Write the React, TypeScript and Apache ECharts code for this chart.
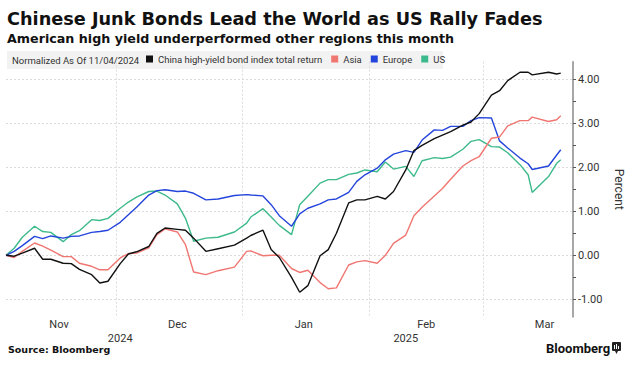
import React, { useEffect, useRef } from "react";
import * as echarts from "echarts";

const dates = [
  "2024-11-04", "2024-11-06", "2024-11-08", "2024-11-11", "2024-11-13", "2024-11-15",
  "2024-11-18", "2024-11-20", "2024-11-22", "2024-11-25", "2024-11-27", "2024-11-29",
  "2024-12-02", "2024-12-04", "2024-12-06", "2024-12-09", "2024-12-11", "2024-12-13",
  "2024-12-16", "2024-12-18", "2024-12-20", "2024-12-23", "2024-12-26", "2024-12-30",
  "2025-01-02", "2025-01-03", "2025-01-06", "2025-01-08", "2025-01-10", "2025-01-13",
  "2025-01-15", "2025-01-17", "2025-01-20", "2025-01-22", "2025-01-24", "2025-01-27",
  "2025-01-29", "2025-01-31", "2025-02-03", "2025-02-05", "2025-02-07", "2025-02-10",
  "2025-02-12", "2025-02-14", "2025-02-17", "2025-02-19", "2025-02-21", "2025-02-24",
  "2025-02-26", "2025-02-28", "2025-03-03", "2025-03-05", "2025-03-07", "2025-03-10",
  "2025-03-12", "2025-03-13", "2025-03-17", "2025-03-19", "2025-03-20",
];

const china = [
  0, -0.02, 0.05, 0.16, -0.09, -0.09,
  -0.18, -0.19, -0.32, -0.44, -0.63, -0.59,
  -0.19, 0.03, 0.08, 0.2, 0.5, 0.62,
  0.59, 0.57, 0.39, 0.09, 0.15, 0.23,
  0.39, 0.45, 0.57, 0.13, -0.05, -0.5,
  -0.84, -0.69, -0.01, 0.13, 0.5, 1.19,
  1.26, 1.26, 1.34, 1.28, 1.45, 1.94,
  2.38, 2.5, 2.65, 2.73, 2.81, 2.96,
  3.03, 3.22, 3.64, 3.74, 3.97, 4.16,
  4.16, 4.1, 4.16, 4.12, 4.14,
];

const asia = [
  0, -0.05, 0.09, 0.28, 0.21, 0.12,
  -0.03, -0.03, -0.18, -0.25, -0.33, -0.33,
  -0.06, 0.04, 0.05, 0.17, 0.47, 0.6,
  0.53, 0.24, -0.38, -0.44, -0.35, -0.27,
  0.09, 0.1, -0.01, 0.0, 0.0, -0.3,
  -0.39, -0.34, -0.62, -0.76, -0.74, -0.22,
  -0.15, -0.12, -0.18, 0.0, 0.27, 0.46,
  0.9, 1.09, 1.35, 1.52, 1.73, 2.03,
  2.15, 2.24, 2.66, 2.69, 2.94, 3.06,
  3.06, 3.14, 3.04, 3.08, 3.17,
];

const europe = [
  0, 0.09, 0.22, 0.43, 0.38, 0.44,
  0.39, 0.43, 0.44, 0.52, 0.54, 0.57,
  0.75, 0.92, 1.09, 1.37, 1.47, 1.49,
  1.45, 1.46, 1.41, 1.26, 1.28, 1.36,
  1.38, 1.37, 1.35, 1.15, 0.9, 0.66,
  0.94, 1.07, 1.17, 1.26, 1.28, 1.43,
  1.68, 1.83, 1.98, 2.17, 2.3, 2.38,
  2.34, 2.62, 2.85, 2.84, 2.93, 2.93,
  3.06, 3.13, 3.12, 2.6, 2.44, 2.21,
  2.08, 1.95, 2.03, 2.28, 2.4,
];

const us = [
  0, 0.16, 0.41, 0.66, 0.54, 0.52,
  0.31, 0.47, 0.56, 0.81, 0.79, 0.84,
  1.07, 1.21, 1.32, 1.45, 1.46, 1.37,
  1.17, 0.84, 0.32, 0.39, 0.41, 0.53,
  0.73, 0.87, 1.06, 0.87, 0.68, 0.47,
  1.15, 1.34, 1.64, 1.72, 1.72, 1.84,
  1.87, 1.94, 1.9, 2.12, 1.96, 2.02,
  1.79, 2.15, 2.22, 2.2, 2.23, 2.41,
  2.59, 2.63, 2.47, 2.46, 2.33, 2.06,
  1.83, 1.43, 1.79, 2.09, 2.17,
];

const seriesNames = ["China high-yield bond index total return", "Asia", "Europe", "US"];
const seriesColors = ["#111111", "#F07672", "#2445DB", "#3DBA8B"];

const axisStart = "2024-11-04";
const axisEnd = "2025-03-23";
const monthStarts = ["2024-12-01", "2025-01-01", "2025-02-01", "2025-03-01"];
const monthLabelDates = ["2024-11-17", "2024-12-16", "2025-01-16", "2025-02-15", "2025-03-16"];
const monthLabels = ["Nov", "Dec", "Jan", "Feb", "Mar"];
const yearLabelDates = ["2024-12-02", "2025-02-10"];
const yearLabels = ["2024", "2025"];
const yLabelTicks = [-1, 0, 1, 2, 3, 4];
const yAllTicks = [-1, -0.5, 0, 0.5, 1, 1.5, 2, 2.5, 3, 3.5, 4];

const ts = (s: string) => {
  const [y, m, d] = s.split("-").map(Number);
  return Date.UTC(y, m - 1, d);
};

export default function App() {
  const ref = useRef<HTMLDivElement>(null);
  useEffect(() => {
    document.body.style.margin = "0";
    const chart = echarts.init(ref.current!, null, { renderer: "svg" });
    const font = "Roboto, 'Noto Sans', sans-serif";
    const heavy = "'DejaVu Sans', Verdana, sans-serif";
    const monthTs = monthLabelDates.map(ts);
    const yearTs = yearLabelDates.map(ts);
    const valueSets = [china, asia, europe, us];
    const order = [3, 2, 1, 0];
    const series = order.map((k) => ({
      name: seriesNames[k],
      type: "line",
      data: dates.map((d, i) => [ts(d), valueSets[k][i]]),
      symbol: "none",
      showSymbol: false,
      lineStyle: { width: 1.4, color: seriesColors[k] },
      itemStyle: { color: seriesColors[k] },
      emphasis: { disabled: true },
    }));
    chart.setOption({
      animation: false,
      grid: { left: 6, right: 63, top: 61.7, bottom: 67.1, containLabel: false, outerBoundsMode: "none" },
      legend: {
        data: seriesNames,
        left: 146,
        top: 54,
        padding: 0,
        icon: "rect",
        itemWidth: 7,
        itemHeight: 7,
        itemGap: 9,
        selectedMode: false,
        textStyle: { fontSize: 9.5, color: "#333", fontFamily: font },
      },
      xAxis: [
        {
          type: "value",
          min: ts(axisStart),
          max: ts(axisEnd),
          axisLine: { show: false },
          axisTick: { show: false, customValues: monthStarts.map(ts) },
          splitLine: { show: true, lineStyle: { color: "#dcdcdc", type: [2, 2], width: 1 } },
          axisLabel: {
            customValues: monthTs,
            formatter: (v: number, i: number) => {
              const k = monthTs.indexOf(v);
              return k >= 0 ? monthLabels[k] : monthLabels[i] ?? "";
            },
            fontSize: 11,
            color: "#333",
            margin: 2,
            fontFamily: font,
          },
        },
        {
          type: "value",
          position: "bottom",
          offset: 14,
          min: ts(axisStart),
          max: ts(axisEnd),
          axisLine: { show: false },
          axisTick: { show: false, customValues: yearTs },
          splitLine: { show: false },
          axisLabel: {
            customValues: yearTs,
            formatter: (v: number, i: number) => {
              const k = yearTs.indexOf(v);
              return k >= 0 ? yearLabels[k] : yearLabels[i] ?? "";
            },
            fontSize: 11,
            color: "#333",
            margin: 2,
            fontFamily: font,
          },
        },
      ],
      yAxis: [
        {
          type: "value",
          position: "right",
          min: -1.4,
          max: 4.4,
          axisLine: { show: true, lineStyle: { color: "#8a8a8a", width: 1.5 } },
          axisTick: { show: true, length: 3, customValues: yAllTicks, lineStyle: { color: "#555" } },
          axisLabel: {
            customValues: yLabelTicks,
            formatter: (v: number) => v.toFixed(2),
            fontSize: 11,
            color: "#333",
            margin: 5,
            fontFamily: font,
          },
          splitLine: { show: false },
          name: "Percent",
          nameLocation: "middle",
          nameRotate: -90,
          nameGap: 38,
          nameTextStyle: { fontSize: 12, color: "#333", fontFamily: font },
        },
        {
          type: "value",
          position: "right",
          min: -1.4,
          max: 4.4,
          axisLine: { show: false },
          axisTick: { show: false, customValues: yLabelTicks },
          axisLabel: { show: false },
          splitLine: { show: true, lineStyle: { color: "#dcdcdc", type: [2, 2], width: 1 } },
        },
      ],
      series,
      graphic: [
        {
          type: "rect",
          z: -10,
          shape: { x: 7, y: 51, width: 436, height: 18 },
          style: { fill: "#f2f2f2" },
        },
        {
          type: "text",
          x: 12,
          y: 60,
          style: { text: "Normalized As Of 11/04/2024", fontSize: 9.5, fontFamily: font, fill: "#333", verticalAlign: "middle" },
        },
        {
          type: "text",
          x: 7,
          y: 19,
          style: { text: "Chinese Junk Bonds Lead the World as US Rally Fades", fontSize: 17.7, fontWeight: "bold", fontFamily: heavy, fill: "#111", verticalAlign: "middle" },
        },
        {
          type: "text",
          x: 7,
          y: 38,
          style: { text: "American high yield underperformed other regions this month", fontSize: 12.7, fontWeight: "bold", fontFamily: heavy, fill: "#111", verticalAlign: "middle" },
        },
        {
          type: "text",
          x: 8,
          y: 349,
          style: { text: "Source: Bloomberg", fontSize: 9.5, fontWeight: "bold", fontFamily: heavy, fill: "#111", verticalAlign: "middle" },
        },
        {
          type: "text",
          x: 546,
          y: 348,
          style: { text: "Bloomberg", fontSize: 13, fontWeight: "bold", fontFamily: font, fill: "#111", verticalAlign: "middle" },
        },
        {
          type: "group",
          x: 612,
          y: 342,
          children: [
            { type: "rect", shape: { x: 0, y: 0, width: 9, height: 9, r: 1 }, style: { fill: "#222" } },
            { type: "polygon", shape: { points: [[3, 9], [6, 9], [4.5, 12]] }, style: { fill: "#222" } },
            { type: "line", shape: { x1: 2.5, y1: 3, x2: 2.5, y2: 7 }, style: { stroke: "#fff", lineWidth: 1 } },
            { type: "line", shape: { x1: 4.5, y1: 2, x2: 4.5, y2: 7 }, style: { stroke: "#fff", lineWidth: 1 } },
            { type: "line", shape: { x1: 6.5, y1: 4, x2: 6.5, y2: 7 }, style: { stroke: "#fff", lineWidth: 1 } },
          ],
        },
      ],
    });
    return () => chart.dispose();
  }, []);
  return <div ref={ref} style={{ width: 636, height: 384 }} />;
}
